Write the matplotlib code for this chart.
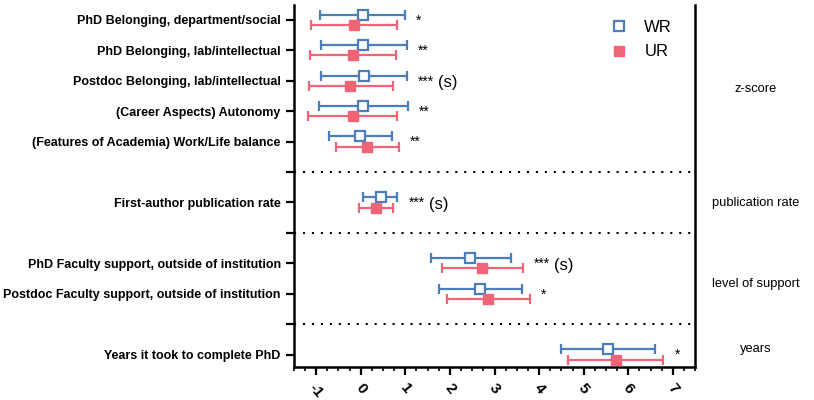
import numpy as np
import matplotlib
matplotlib.use("Agg")
import matplotlib.pyplot as plt
from matplotlib.ticker import MultipleLocator
from matplotlib.lines import Line2D

plt.rcParams['font.family'] = ['Liberation Sans', 'DejaVu Sans']

# row labels (top to bottom), None = separator slot
labels = ["PhD Belonging, department/social",
          "PhD Belonging, lab/intellectual",
          "Postdoc Belonging, lab/intellectual",
          "(Career Aspects) Autonomy",
          "(Features of Academia) Work/Life balance",
          None,
          "First-author publication rate",
          None,
          "PhD Faculty support, outside of institution",
          "Postdoc Faculty support, outside of institution",
          None,
          "Years it took to complete PhD"]

# WR: mean, low, high
wr_mean = [0.06, 0.06, 0.08, 0.06, -0.01, 0.45, 2.46, 2.68, 5.55]
wr_low = [-0.92, -0.90, -0.88, -0.94, -0.71, 0.04, 1.57, 1.75, 4.49]
wr_high = [0.99, 1.03, 1.03, 1.06, 0.70, 0.82, 3.37, 3.61, 6.61]
# UR: mean, low, high
ur_mean = [-0.15, -0.18, -0.23, -0.18, 0.15, 0.34, 2.72, 2.86, 5.72]
ur_low = [-1.12, -1.14, -1.17, -1.18, -0.56, -0.04, 1.82, 1.93, 4.65]
ur_high = [0.82, 0.78, 0.73, 0.82, 0.86, 0.73, 3.64, 3.79, 6.79]

stars = ["*", "**", "***", "**", "**", "***", "***", "*", "*"]
sig = [False, False, True, False, False, True, True, False, False]

groups = ["z-score", "publication rate", "level of support", "years"]
group_pos = [2.28, 6.03, 8.69, 10.83]

blue = "#4a7ebb"
red = "#f06478"

rows = [i for i, l in enumerate(labels) if l is not None]
seps = [i for i, l in enumerate(labels) if l is None]

fig = plt.figure(figsize=(8.14, 4.0), dpi=100)
ax = fig.add_axes([0.361, 0.083, 0.493, 0.904])

wr_mean = np.array(wr_mean); ur_mean = np.array(ur_mean)
y = np.array(rows, dtype=float)
off = 0.17

ax.errorbar(wr_mean, y - off,
            xerr=[wr_mean - np.array(wr_low), np.array(wr_high) - wr_mean],
            fmt='s', color=blue, mfc='white', mec=blue, mew=1.6, ms=7,
            ecolor=blue, elinewidth=1.6, capsize=3.5, capthick=1.6,
            zorder=3)
ax.errorbar(ur_mean, y + off,
            xerr=[ur_mean - np.array(ur_low), np.array(ur_high) - ur_mean],
            fmt='s', color=red, mfc=red, mec=red, ms=7,
            ecolor=red, elinewidth=1.6, capsize=3.5, capthick=1.6,
            zorder=3)

for s in seps:
    ax.axhline(s, color='black', linestyle=(0, (1, 3.3)), linewidth=1.5)

for yy, hi1, hi2, st, sg in zip(y, wr_high, ur_high, stars, sig):
    xt = max(hi1, hi2) + 0.25
    t = ax.text(xt, yy + 0.02, st, fontsize=10, va='center', ha='left')
    if sg:
        ax.annotate("(s)", xy=(1, 0.4), xycoords=t, xytext=(3, 0),
                    textcoords='offset points', fontsize=12,
                    va='center', ha='left')

ax.set_xlim(-1.5, 7.5)
ax.set_ylim(11.4, -0.48)
ax.xaxis.set_minor_locator(MultipleLocator(0.25))
ax.set_xticks(range(-1, 8))
ax.set_xticklabels([str(v) for v in range(-1, 8)], rotation=-50,
                   fontsize=11, fontweight='bold', ha='center')
ax.set_yticks(range(len(labels)))
ax.set_yticklabels([l if l else "" for l in labels],
                   fontsize=9.0, fontweight='bold')
ax.tick_params(axis='both', which='major', length=6, width=1.6)
ax.tick_params(axis='x', which='minor', length=3, width=1.2)
ax.tick_params(axis='x', pad=4)
for side in ['left', 'bottom', 'right']:
    ax.spines[side].set_linewidth(1.8)
ax.spines['top'].set_visible(False)

for g, gy in zip(groups, group_pos):
    ax.text(1.15, gy, g, transform=ax.get_yaxis_transform(),
            fontsize=9.3, ha='center', va='center')

handles = [Line2D([], [], ls='none', marker='s', ms=7, mfc='white',
                  mec=blue, mew=1.6),
           Line2D([], [], ls='none', marker='s', ms=7, mfc=red, mec=red)]
ax.legend(handles, ["WR", "UR"], loc='upper right',
          bbox_to_anchor=(0.98, 1.0), frameon=False, fontsize=12,
          handletextpad=1.0, labelspacing=0.55, handlelength=1.0)

fig.savefig("out.png", dpi=100)
